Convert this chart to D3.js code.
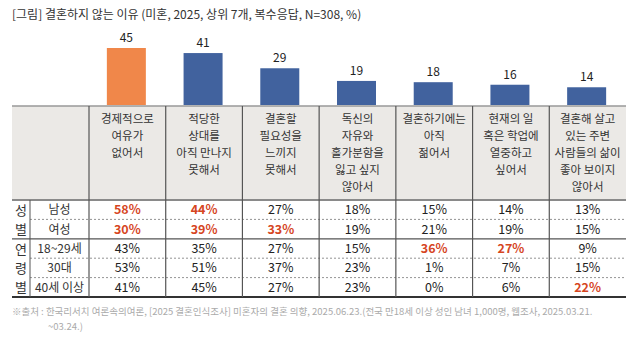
<!DOCTYPE html>
<html>
<head>
<meta charset="utf-8">
<script src="https://d3js.org/d3.v7.min.js"></script>
<style>
  body { margin: 0; background: #fff; }
  text { font-family: "Noto Sans CJK KR", "Noto Sans", sans-serif; }
</style>
</head>
<body>
<div id="chart"></div>
<script>
// data
var title = "[그림] 결혼하지 않는 이유 (미혼, 2025, 상위 7개, 복수응답, N=308, %)";
var reasons = [
  ["경제적으로", "여유가", "없어서"],
  ["적당한", "상대를", "아직 만나지", "못해서"],
  ["결혼할", "필요성을", "느끼지", "못해서"],
  ["독신의", "자유와", "홀가분함을", "잃고 싶지", "않아서"],
  ["결혼하기에는", "아직", "젊어서"],
  ["현재의 일", "혹은 학업에", "열중하고", "싶어서"],
  ["결혼해 살고", "있는 주변", "사람들의 삶이", "좋아 보이지", "않아서"]
];
var totals = [45, 41, 29, 19, 18, 16, 14];
var groupLabels = [["성", "별"], ["연", "령", "별"]];
var rowLabels = ["남성", "여성", "18~29세", "30대", "40세 이상"];
var rowGroup = [0, 0, 1, 1, 1];
var male   = [58, 44, 27, 18, 15, 14, 13];
var female = [30, 39, 33, 19, 21, 19, 15];
var age18  = [43, 35, 27, 15, 36, 27, 9];
var age30  = [53, 51, 37, 23, 1, 7, 15];
var age40  = [41, 45, 27, 23, 0, 6, 22];
var rows = [male, female, age18, age30, age40];
// highlighted cells [row, col]
var highlights = [[0,0],[0,1],[1,0],[1,1],[1,2],[2,4],[2,5],[4,6]];
var source1 = "※출처 : 한국리서치 여론속의여론, [2025 결혼인식조사] 미혼자의 결혼 의향, 2025.06.23.(전국 만18세 이상 성인 남녀 1,000명, 웹조사, 2025.03.21.";
var source2 = "~03.24.)";

var W = 637, H = 341;
var svg = d3.select("#chart").append("svg")
  .attr("width", W).attr("height", H);

var left = 12, right = 626, labelCol = 89, subCol = 30;
var baseY = 106, headBottom = 200, rowH = 19.4, tableBottom = headBottom + rowH * 5;

var x = d3.scaleBand().domain(d3.range(7)).range([labelCol, right]);
var y = d3.scaleLinear().domain([0, 45]).range([baseY - 1, 48]);
var barW = 39;

svg.append("text")
  .attr("x", left).attr("y", 19)
  .attr("font-size", 12).attr("fill", "#333")
  .text(title);

// header background
svg.append("rect")
  .attr("x", left).attr("y", baseY)
  .attr("width", right - left).attr("height", headBottom - baseY)
  .attr("fill", "#ebe9e6");

// bars
svg.selectAll(".bar").data(totals).enter().append("rect")
  .attr("class", "bar")
  .attr("x", (d, i) => x(i) + x.bandwidth() / 2 - barW / 2 - 1)
  .attr("y", d => y(d))
  .attr("width", barW)
  .attr("height", d => y(0) - y(d))
  .attr("fill", (d, i) => i == 0 ? "#f0874a" : "#41629e");

svg.selectAll(".val").data(totals).enter().append("text")
  .attr("x", (d, i) => x(i) + x.bandwidth() / 2 - 1)
  .attr("y", d => y(d) - 6)
  .attr("text-anchor", "middle")
  .attr("font-size", 12).attr("fill", "#222")
  .text(d => d);

// header text
reasons.forEach(function(lines, i) {
  var t = svg.append("text")
    .attr("text-anchor", "middle")
    .attr("font-size", 11.5).attr("fill", "#333");
  lines.forEach(function(l, j) {
    t.append("tspan")
      .attr("x", x(i) + x.bandwidth() / 2)
      .attr("y", 123 + j * 17)
      .text(l);
  });
});

// table lines
svg.append("line").attr("x1", left).attr("x2", right)
  .attr("y1", baseY).attr("y2", baseY)
  .attr("stroke", "#999").attr("stroke-width", 1.5);
svg.append("line").attr("x1", left).attr("x2", right)
  .attr("y1", headBottom).attr("y2", headBottom)
  .attr("stroke", "#8a8a8a").attr("stroke-width", 2);
svg.append("line").attr("x1", left).attr("x2", right)
  .attr("y1", tableBottom).attr("y2", tableBottom)
  .attr("stroke", "#333").attr("stroke-width", 2);

d3.range(1, 5).forEach(function(r) {
  var yy = headBottom + rowH * r;
  var solid = rowGroup[r] != rowGroup[r - 1];
  svg.append("line")
    .attr("x1", solid ? left : subCol).attr("x2", right)
    .attr("y1", yy).attr("y2", yy)
    .attr("stroke", solid ? "#555" : "#777")
    .attr("stroke-width", solid ? 1.2 : 0.8)
    .attr("stroke-dasharray", solid ? null : "2,2");
});

d3.range(0, 7).forEach(function(i) {
  var xx = x(i);
  svg.append("line").attr("x1", xx).attr("x2", xx)
    .attr("y1", baseY).attr("y2", tableBottom)
    .attr("stroke", "#555").attr("stroke-width", 1.2);
});
svg.append("line").attr("x1", subCol).attr("x2", subCol)
  .attr("y1", headBottom).attr("y2", tableBottom)
  .attr("stroke", "#555").attr("stroke-width", 1);

// group labels
var groupStart = [0, 2], groupLen = [2, 3];
groupLabels.forEach(function(chars, g) {
  var top = headBottom + groupStart[g] * rowH;
  var h = groupLen[g] * rowH;
  var step = h / chars.length;
  chars.forEach(function(c, k) {
    svg.append("text")
      .attr("x", 21).attr("y", top + step * k + step / 2 + 5)
      .attr("text-anchor", "middle")
      .attr("font-size", 13).attr("fill", "#333")
      .text(c);
  });
});

rowLabels.forEach(function(l, r) {
  svg.append("text")
    .attr("x", 59.5).attr("y", headBottom + rowH * r + rowH / 2 + 4.5)
    .attr("text-anchor", "middle")
    .attr("font-size", 12).attr("fill", "#333")
    .text(l);
});

function isHi(r, c) {
  return highlights.some(h => h[0] == r && h[1] == c);
}

rows.forEach(function(vals, r) {
  svg.selectAll(null).data(vals).enter().append("text")
    .attr("x", (d, i) => x(i) + x.bandwidth() / 2)
    .attr("y", headBottom + rowH * r + rowH / 2 + 4.5)
    .attr("text-anchor", "middle")
    .attr("font-size", 12.5)
    .attr("font-weight", (d, i) => isHi(r, i) ? "bold" : "normal")
    .attr("fill", (d, i) => isHi(r, i) ? "#d6461f" : "#222")
    .text(d => d + "%");
});

// source
svg.append("text")
  .attr("x", left).attr("y", 315)
  .attr("font-size", 9.5).attr("fill", "#aaa")
  .text(source1);
svg.append("text")
  .attr("x", 48).attr("y", 330)
  .attr("font-size", 9.5).attr("fill", "#aaa")
  .text(source2);
</script>
</body>
</html>
